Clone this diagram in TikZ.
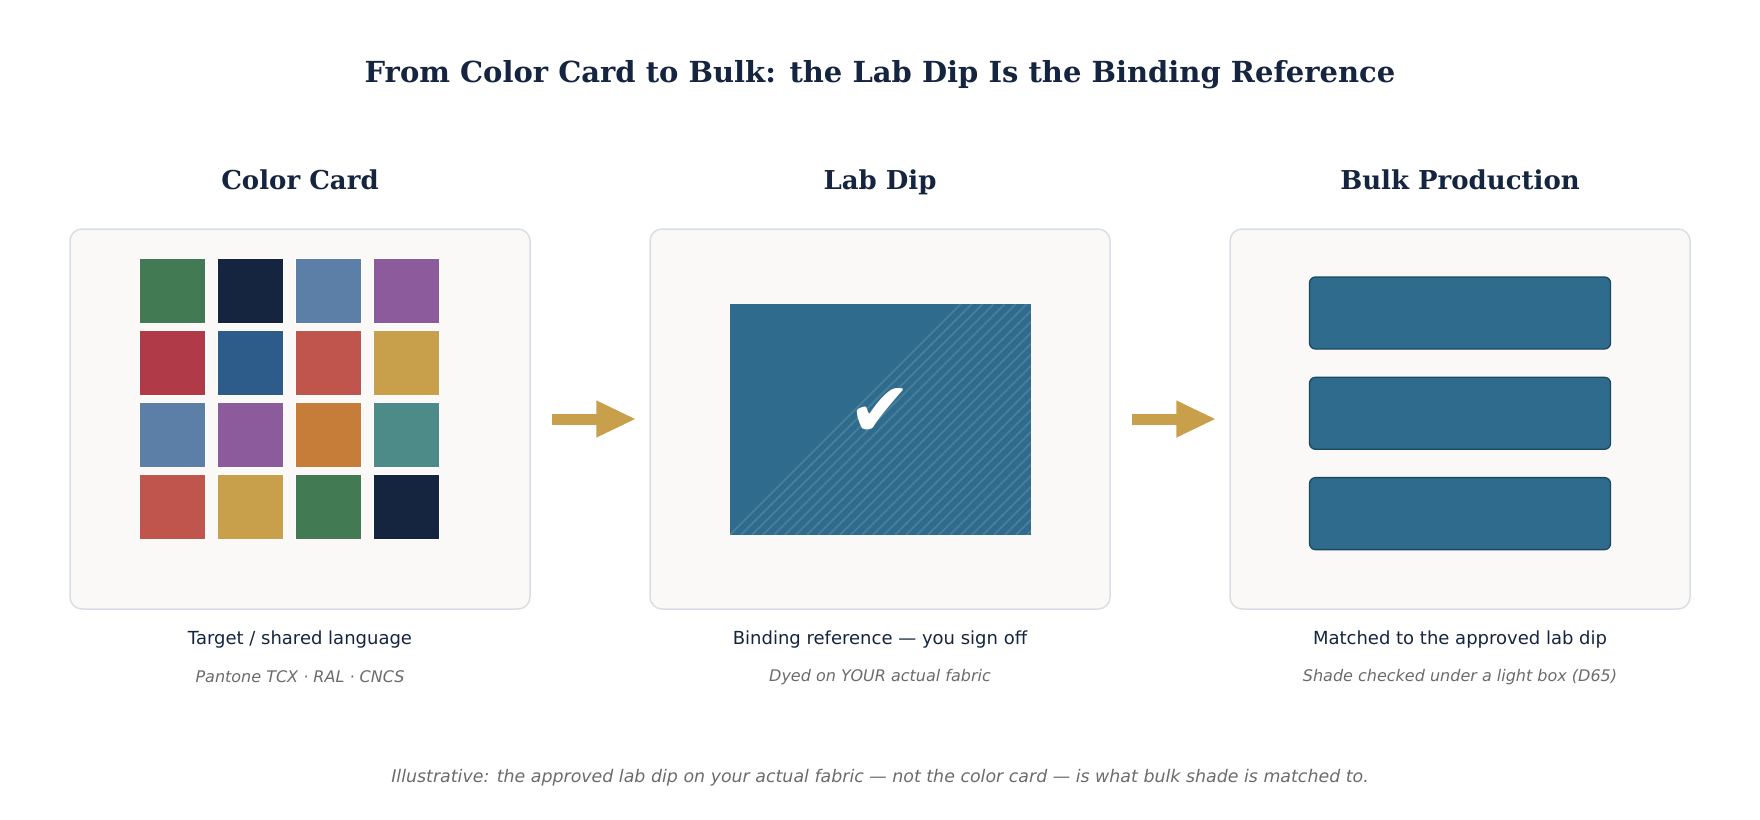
\documentclass[tikz,border=0pt]{standalone}
\usepackage{fontspec}
\setmainfont{DejaVu Sans}
\newfontfamily\headfont{DejaVu Serif}
\usetikzlibrary{positioning,arrows.meta}

\definecolor{ink}{HTML}{15253F}
\definecolor{notegray}{HTML}{6B6B6B}
\definecolor{panelfill}{HTML}{FAF9F7}
\definecolor{panelline}{HTML}{D9DEE6}
\definecolor{leaf}{HTML}{417A53}
\definecolor{steel}{HTML}{5B7FA6}
\definecolor{plum}{HTML}{8C5B9B}
\definecolor{wine}{HTML}{B03A48}
\definecolor{denim}{HTML}{2E5C8A}
\definecolor{coral}{HTML}{C0554E}
\definecolor{gold}{HTML}{C8A04C}
\definecolor{rust}{HTML}{C67D3A}
\definecolor{teal}{HTML}{4C8B87}
\definecolor{dipblue}{HTML}{2E6B8D}
\definecolor{bardark}{HTML}{1D4860}

\tikzstyle{panel} = [draw=panelline, fill=panelfill, line width=1.5pt, rounded corners=12pt, minimum width=460pt, minimum height=380pt, inner sep=0pt]
\tikzstyle{heading} = [font=\headfont\bfseries\fontsize{26}{31}\selectfont, text=ink, anchor=base]
\tikzstyle{caption} = [font=\fontsize{18}{21}\selectfont, text=ink]
\tikzstyle{note} = [font=\itshape\fontsize{16}{19}\selectfont, text=notegray]
\tikzstyle{swatch} = [draw=white, line width=0.8pt, minimum width=66pt, minimum height=65pt, inner sep=0pt]
\tikzstyle{bar} = [draw=bardark, fill=dipblue, line width=1.3pt, rounded corners=6pt, minimum width=301pt, minimum height=72pt, inner sep=0pt]
\tikzstyle{hatch} = [white, opacity=0.12, line width=2pt]
\tikzstyle{flow} = [draw=gold, line width=11pt, -{Triangle[width=34pt,length=40pt]}]

\begin{document}
\begin{tikzpicture}[x=1pt,y=-1pt]
\useasboundingbox (0,0) rectangle (1760,819);

\node[font=\headfont\bfseries\fontsize{29}{35}\selectfont, text=ink] (title) at (880,75) {From Color Card to Bulk: the Lab Dip Is the Binding Reference};

% the three stages
\node[panel] (card) at (300,419) {};
\node[panel] (dip) at (880,419) {};
\node[panel] (bulk) at (1460,419) {};

\node[heading] (cardhead) at ([yshift=39pt]card.north) {Color Card};
\node[heading] (diphead) at ([yshift=39pt]dip.north) {Lab Dip};
\node[heading] (bulkhead) at ([yshift=39pt]bulk.north) {Bulk Production};

% colour card swatches
\foreach \row/\colors in {0/{leaf,ink,steel,plum},1/{wine,denim,coral,gold},2/{steel,plum,rust,teal},3/{coral,gold,leaf,ink}}
  \foreach \c [count=\col from 0] in \colors
    \node[swatch, fill=\c] (sw-\row-\col) at (172.3+78*\col,291.3+71.8*\row) {};

% lab dip cloth
\node[fill=dipblue, minimum width=301pt, minimum height=231pt, inner sep=0pt] (cloth) at (880.5,419.2) {};
\begin{scope}
\clip (cloth.south west) rectangle (cloth.north east);
\foreach \k in {0,...,27}
  \draw[hatch] ([xshift=\k*11pt]cloth.south west) -- ++(231,-231);
\end{scope}
\node[font=\fontsize{76}{80}\selectfont, text=white] (tick) at (880,413) {✔};

% bulk rolls
\node[bar] (bar1) at (1460,313) {};
\node[bar, below=27pt of bar1] (bar2) {};
\node[bar, below=27pt of bar2] (bar3) {};

\draw[flow] ([xshift=21pt]card.east) -- ([xshift=-13pt]dip.west);
\draw[flow] ([xshift=21pt]dip.east) -- ([xshift=-13pt]bulk.west);

\node[caption] (cardcap) at ([yshift=-30pt]card.south) {Target / shared language};
\node[note] (cardnote) at ([yshift=-67pt]card.south) {Pantone TCX · RAL · CNCS};
\node[caption] (dipcap) at ([yshift=-30pt]dip.south) {Binding reference — you sign off};
\node[note] (dipnote) at ([yshift=-67pt]dip.south) {Dyed on YOUR actual fabric};
\node[caption] (bulkcap) at ([yshift=-30pt]bulk.south) {Matched to the approved lab dip};
\node[note] (bulknote) at ([yshift=-67pt]bulk.south) {Shade checked under a light box (D65)};

\node[note, font=\itshape\fontsize{17.4}{21}\selectfont] (footer) at (880,778) {Illustrative: the approved lab dip on your actual fabric — not the color card — is what bulk shade is matched to.};
\end{tikzpicture}
\end{document}
